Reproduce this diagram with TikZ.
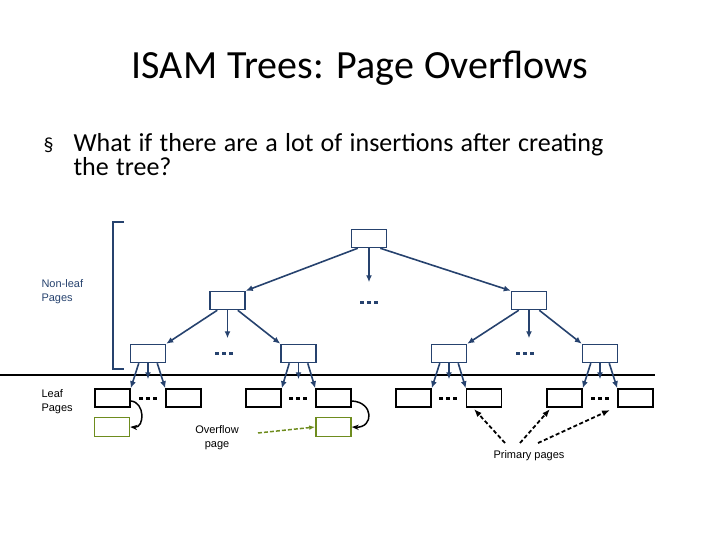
\documentclass[tikz,border=0pt]{standalone}
\usepackage{fontspec}
\setmainfont{Carlito}
\newfontfamily\arialf{Liberation Sans}
\usetikzlibrary{arrows.meta}
\definecolor{nb}{RGB}{38,66,110}
\definecolor{gr}{RGB}{110,140,30}
\begin{document}
\begin{tikzpicture}[x=1pt,y=-1pt,
 pg/.style={draw,line width=1.5pt,minimum width=35pt,minimum height=18pt,inner sep=0pt},
 ip/.style={pg,draw=nb},
 lp/.style={pg,draw=black},
 op/.style={pg,draw=gr,minimum height=19pt},
 ba/.style={nb,line width=1.6pt,-{Latex[length=7pt,width=6pt]}},
 dots/.style={line width=3pt,dash pattern=on 4pt off 3pt},
 lab/.style={font=\arialf\fontsize{11}{14}\selectfont,align=center}]
\useasboundingbox (0,0) rectangle (720,540);
\node at (360,68) {\fontsize{40}{46}\selectfont\spaceskip=0.25em ISAM Trees: Page Overflows};
\node[anchor=north west,align=left,text width=640pt] at (40,130) {\fontsize{26}{31}\selectfont\spaceskip=0.28em \makebox[30pt][l]{\fontsize{20}{20}\selectfont\S}What if there are a lot of insertions after creating\\\hspace{30pt}the tree?};
% bracket
\draw[nb,line width=2pt] (124,222) -- (113,222) -- (113,369) -- (124,369);
\node[lab,text=nb,align=left,anchor=west] (nl) at (38,292) {Non-leaf\\Pages};
\node[lab,align=left,anchor=west] (lf) at (38,402) {Leaf\\Pages};
\draw[line width=1.5pt] (0,375) -- (655,375);
% internal
\node[ip] (r) at (369,238.5) {};
\node[ip] (a) at (227.5,300.5) {};
\node[ip] (b) at (529,300.5) {};
\node[ip] (a1) at (148,353.5) {};
\node[ip] (a2) at (298.5,353.5) {};
\node[ip] (b1) at (449,353.5) {};
\node[ip] (b2) at (600,353.5) {};
% leaves
\foreach \n/\x in {l1/112.5,l2/183.5,l3/263.5,l4/333.5,l5/413.5,l6/484,l7/564.5,l8/635.5}
  \node[lp] (\n) at (\x,398) {};
\node[op] (o1) at (112,427) {};
\node[op] (o2) at (333.5,427) {};
% dots
\draw[dots,nb] (360,302) -- ++(18,0);
\draw[dots,nb] (215,353) -- ++(18,0);
\draw[dots,nb] (516,353) -- ++(18,0);
\foreach \x in {139,289,439,591} \draw[dots] (\x,398) -- ++(18,0);
% arrows
\draw[ba] (r.south west)++(7,0) -- (a.north east);
\draw[ba] (r.south) -- ++(0,34);
\draw[ba] (r.south east)++(-7,0) -- (b.north west);
\foreach \p/\l/\rr in {a/a1/a2,b/b1/b2}{
  \draw[ba] (\p.south west)++(8,0) -- (\l.north east);
  \draw[ba] (\p.south) -- ++(0,28);
  \draw[ba] (\p.south east)++(-8,0) -- (\rr.north west);}
\foreach \p/\l/\rr in {a1/l1/l2,a2/l3/l4,b1/l5/l6,b2/l7/l8}{
  \draw[ba] (\p.south west)++(9,0) -- (\l.north east);
  \draw[ba] (\p.south) -- ++(0,16);
  \draw[ba] (\p.south east)++(-9,0) -- (\rr.north west);}
% overflow curves
\draw[line width=1.5pt,-{Stealth[length=7pt]}] (l1.east) ++(0,3) .. controls (145,402) and (145,428) .. (o1.east);
\draw[line width=1.5pt,-{Stealth[length=7pt]}] (l4.east) ++(0,3) .. controls (374,402) and (374,428) .. (o2.east);
\node[lab] (ov) at (217,438) {Overflow\\page};
\draw[gr,line width=1.5pt,dash pattern=on 4pt off 2pt,-{Latex[length=6pt]}] (258,433) -- (o2.west);
\node[lab] (pp) at (529,456) {Primary pages};
\draw[line width=1.8pt,dash pattern=on 4pt off 2.5pt,-{Latex[length=8pt]}] (505,443) -- (474,409);
\draw[line width=1.8pt,dash pattern=on 4pt off 2.5pt,-{Latex[length=8pt]}] (520,443) -- (550,409);
\draw[line width=1.8pt,dash pattern=on 4pt off 2.5pt,-{Latex[length=8pt]}] (538,443) -- (610,410);
\end{tikzpicture}
\end{document}
